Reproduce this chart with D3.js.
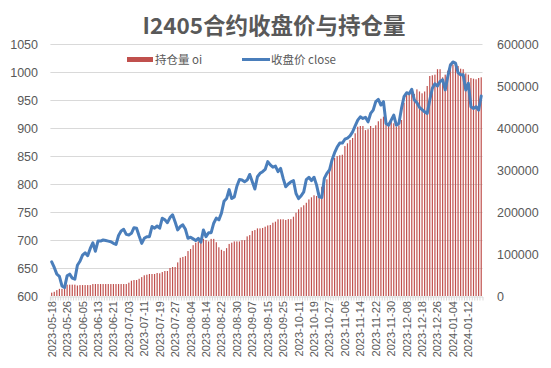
<!DOCTYPE html>
<html><head><meta charset="utf-8">
<script src="https://cdn.jsdelivr.net/npm/d3@7"></script>
<style>html,body{margin:0;padding:0;background:#fff;}svg{display:block;}</style>
</head><body>
<svg id="c" width="551" height="368"></svg>
<script>
const dates = [
"2023-05-18","2023-05-19","2023-05-22","2023-05-23","2023-05-24","2023-05-25","2023-05-26","2023-05-29","2023-05-30","2023-05-31",
"2023-06-01","2023-06-02","2023-06-05","2023-06-06","2023-06-07","2023-06-08","2023-06-09","2023-06-12","2023-06-13","2023-06-14","2023-06-15","2023-06-16","2023-06-19","2023-06-20","2023-06-21","2023-06-26","2023-06-27","2023-06-28","2023-06-29","2023-06-30",
"2023-07-03","2023-07-04","2023-07-05","2023-07-06","2023-07-07","2023-07-10","2023-07-11","2023-07-12","2023-07-13","2023-07-14","2023-07-17","2023-07-18","2023-07-19","2023-07-20","2023-07-21","2023-07-24","2023-07-25","2023-07-26","2023-07-27","2023-07-28","2023-07-31",
"2023-08-01","2023-08-02","2023-08-03","2023-08-04","2023-08-07","2023-08-08","2023-08-09","2023-08-10","2023-08-11","2023-08-14","2023-08-15","2023-08-16","2023-08-17","2023-08-18","2023-08-21","2023-08-22","2023-08-23","2023-08-24","2023-08-25","2023-08-28","2023-08-29","2023-08-30","2023-08-31",
"2023-09-01","2023-09-04","2023-09-05","2023-09-06","2023-09-07","2023-09-08","2023-09-11","2023-09-12","2023-09-13","2023-09-14","2023-09-15","2023-09-18","2023-09-19","2023-09-20","2023-09-21","2023-09-22","2023-09-25","2023-09-26","2023-09-27","2023-09-28",
"2023-10-09","2023-10-10","2023-10-11","2023-10-12","2023-10-13","2023-10-16","2023-10-17","2023-10-18","2023-10-19","2023-10-20","2023-10-23","2023-10-24","2023-10-25","2023-10-26","2023-10-27","2023-10-30","2023-10-31",
"2023-11-01","2023-11-02","2023-11-03","2023-11-06","2023-11-07","2023-11-08","2023-11-09","2023-11-10","2023-11-13","2023-11-14","2023-11-15","2023-11-16","2023-11-17","2023-11-20","2023-11-21","2023-11-22","2023-11-23","2023-11-24","2023-11-27","2023-11-28","2023-11-29","2023-11-30",
"2023-12-01","2023-12-04","2023-12-05","2023-12-06","2023-12-07","2023-12-08","2023-12-11","2023-12-12","2023-12-13","2023-12-14","2023-12-15","2023-12-18","2023-12-19","2023-12-20","2023-12-21","2023-12-22","2023-12-25","2023-12-26","2023-12-27","2023-12-28","2023-12-29",
"2024-01-02","2024-01-03","2024-01-04","2024-01-05","2024-01-08","2024-01-09","2024-01-10","2024-01-11","2024-01-12","2024-01-15","2024-01-16","2024-01-17","2024-01-18","2024-01-19"
];
const closePrice = [
661,651,639,635,618,615,636,639,632,630,
655,662,673,677,672,685,695,680,698,698,
700,699,698,697,694,692,708,716,719,710,
709,712,722,721,707,694,703,706,706,724,
721,725,721,739,736,731,740,745,732,718,
724,727,719,703,705,702,699,703,696,718,
706,713,713,730,739,736,748,769,774,790,
774,777,796,808,807,804,807,817,804,791,
813,819,822,826,840,834,830,832,822,828,
810,795,800,804,806,783,774,779,786,808,
812,806,812,798,777,776,810,819,825,843,
856,866,873,873,880,882,886,893,904,914,
920,917,919,911,926,932,947,951,941,947,
908,905,914,923,905,908,935,956,963,961,
969,950,945,937,933,929,926,950,971,979,
975,983,986,968,992,1012,1018,1016,999,995,
995,968,980,938,935,938,932,957
];
const openInterest = [
8000,10000,14000,17000,17000,21000,27000,27000,27000,27000,
25000,26000,26000,26000,26000,26000,28500,28500,28500,28500,
28500,28500,28500,28500,28500,28500,28500,28500,28500,28500,
31700,36400,38000,38000,41000,45000,49300,50700,52400,52400,
52400,54800,54000,57000,59500,59500,66700,69000,69000,80000,
91000,93000,95000,107000,112000,121000,127000,130000,136000,136000,
133000,130000,136000,136000,128000,116000,110000,107000,114000,124000,
127000,130000,130000,130000,133000,133000,142000,145000,155000,157000,
161000,161000,162000,165000,168000,169000,174500,177000,182600,182600,
182600,181000,183000,183000,188800,198300,206400,211200,216000,222000,
230000,235000,239800,238000,246000,260000,266700,277800,303000,319000,
328600,333000,335000,336400,357000,363600,371400,376200,387400,403000,
404800,404800,395000,397000,404800,400000,406400,416000,422000,427000,
414300,412600,420700,411200,403000,406400,419000,460000,483000,482000,
492000,481000,492000,487000,482600,487000,500000,523800,525500,527000,
540000,540000,520700,527000,536400,554000,551000,552400,547600,541200,
540000,530000,527000,519000,517400,516000,519000,520700
];
const leftTicks = [600,650,700,750,800,850,900,950,1000,1050];
const rightTicks = [0,100000,200000,300000,400000,500000,600000];
const titleText = "I2405合约收盘价与持仓量";
const seriesNames = ["持仓量 oi","收盘价 close"];

const svg = d3.select("#c");
const W = 551, H = 368;
const L = 50.4, R = 482.5, T = 44, B = 296;
const font = "'Noto Sans CJK SC','Noto Sans',sans-serif";
const numFont = "'Liberation Sans','Noto Sans',sans-serif";
const grey = "#595959";

svg.append("rect").attr("width",W).attr("height",H).attr("fill","#fff");

const x = d3.scaleBand().domain(dates).range([L,R]).padding(0);
const yL = d3.scaleLinear().domain([600,1050]).range([B,T]);
const yR = d3.scaleLinear().domain([0,600000]).range([B,T]);

// gridlines
svg.append("g").selectAll("line").data(leftTicks.slice(1)).join("line")
  .attr("x1",L).attr("x2",R).attr("y1",d=>Math.round(yL(d))+0.5).attr("y2",d=>Math.round(yL(d))+0.5)
  .attr("stroke","#d9d9d9").attr("stroke-width",1);

// bars
const bw = 1.2;
svg.append("g").selectAll("rect").data(openInterest).join("rect")
  .attr("x",(d,i)=>x(dates[i])+x.bandwidth()/2-bw/2)
  .attr("width",bw)
  .attr("y",d=>yR(d))
  .attr("height",d=>B-yR(d))
  .attr("fill","#C0504D");

// axis line + ticks
const xAxis = d3.axisBottom(x).tickSize(4).tickFormat("");
const gx = svg.append("g").attr("transform",`translate(0,${B+0.5})`).call(xAxis);
gx.select(".domain").attr("stroke","#d9d9d9");
gx.selectAll(".tick line").attr("stroke","#d9d9d9").attr("transform",`translate(${-x.bandwidth()/2},0)`);
gx.selectAll(".tick text").remove();

// x labels
const labelDates = dates.filter((d,i)=>i%6===0);
svg.append("g").selectAll("text").data(labelDates).join("text")
  .attr("transform",d=>`translate(${x(d)+x.bandwidth()/2+4},${B+5}) rotate(-90)`)
  .attr("text-anchor","end")
  .attr("font-family",numFont).attr("font-size",11).attr("fill",grey)
  .text(d=>d);

// line
const line = d3.line().x((d,i)=>x(dates[i])+x.bandwidth()/2).y(d=>yL(d));
svg.append("path").datum(closePrice).attr("d",line)
  .attr("fill","none").attr("stroke","#4A7EBB").attr("stroke-width",3)
  .attr("stroke-linejoin","round").attr("stroke-linecap","round");

// left axis labels
svg.append("g").selectAll("text").data(leftTicks).join("text")
  .attr("x",38).attr("y",d=>yL(d)+4.5).attr("text-anchor","end")
  .attr("font-family",numFont).attr("font-size",12.5).attr("fill",grey).text(d=>d);
// right axis labels
svg.append("g").selectAll("text").data(rightTicks).join("text")
  .attr("x",497).attr("y",d=>yR(d)+4.5).attr("text-anchor","start")
  .attr("font-family",numFont).attr("font-size",12.5).attr("fill",grey).text(d=>d);

// title
svg.append("text").attr("x",274).attr("y",34).attr("text-anchor","middle")
  .attr("font-family",font).attr("font-weight","bold").attr("font-size",22.5).attr("fill",grey)
  .text(titleText);

// legend
const lg = svg.append("g");
lg.append("rect").attr("x",127).attr("y",57).attr("width",26).attr("height",5).attr("fill","#C0504D");
lg.append("text").attr("x",155).attr("y",64).attr("font-family",font).attr("font-size",11.5).attr("fill",grey).text(seriesNames[0]);
lg.append("line").attr("x1",242).attr("x2",270).attr("y1",59.5).attr("y2",59.5).attr("stroke","#4A7EBB").attr("stroke-width",3);
lg.append("text").attr("x",271).attr("y",64).attr("font-family",font).attr("font-size",11.5).attr("fill",grey).text(seriesNames[1]);
</script>
</body></html>
